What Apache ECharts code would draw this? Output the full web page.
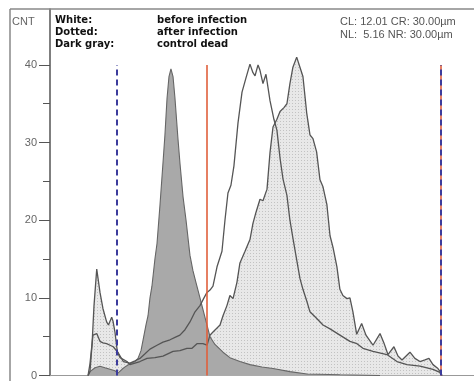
<!DOCTYPE html>
<html><head><meta charset="utf-8">
<script src="https://cdn.jsdelivr.net/npm/echarts@6/dist/echarts.min.js"></script>
<style>html,body{margin:0;padding:0;background:#fff}#c{width:474px;height:381px}</style>
</head><body><div id="c"></div>
<script>
// x in µm, y in counts (CNT)
const whiteX = [2.92,3.07,3.30,3.59,3.84,4.07,4.35,4.61,4.86,5.25,5.63,6.14,6.53,6.91,7.30,7.68,8.22,8.68,9.22,9.60,9.98,10.37,10.75,11.14,11.52,11.83,12.06,12.29,12.52,12.83,13.21,13.44,13.67,13.90,14.13,14.44,14.75,15.05,15.36,15.59,15.75,15.98,16.13,16.36,16.59,16.90,17.20,17.43,17.67,17.90,18.20,18.43,18.66,18.97,19.20,19.43,19.74,19.97,20.51,20.97,21.51,22.27,23.04,23.58,24.04,24.81,25.88,26.65,27.42,28.42,29.42,29.95,30.11];
const whiteY = [0,1.5,5.2,5.4,4.4,4.2,4.1,3.9,3.7,2.9,1.8,1.6,1.9,2.2,2.8,3.4,3.9,4.3,4.6,4.9,5.2,5.9,6.9,8.2,9.0,10,10.7,11.0,11.5,14,16,20,23.5,24.5,27,32.5,36.5,38.3,40.1,39.0,38.6,40,39.3,37.6,38.8,35.4,33,31.6,28,25.3,23.2,20,17.7,14.7,12.5,11.1,9.5,8.2,7.3,6.5,6.0,5.2,4.4,4.1,3.5,3.1,2.7,1.8,1.4,1.2,0.8,0.4,0];

const dottedX = [2.92,3.07,3.23,3.38,3.59,3.69,3.84,4.07,4.35,4.49,4.61,4.74,4.84,4.99,5.17,5.38,5.91,6.14,6.91,7.45,8.06,8.68,9.45,9.98,10.52,10.91,11.29,11.75,12.06,12.29,12.52,13.06,13.29,13.59,13.82,14.06,14.36,14.59,14.98,15.36,15.59,15.82,16.13,16.36,16.67,16.90,17.13,17.43,17.67,17.97,18.20,18.43,18.66,18.95,19.20,19.43,19.72,19.97,20.20,20.48,20.74,20.97,21.27,21.51,21.74,22.04,22.27,22.50,22.81,23.04,23.27,23.56,23.94,24.27,24.81,25.35,25.65,25.96,26.42,26.73,27.04,27.65,28.03,28.42,28.80,29.11,29.42,29.80,30.01,30.11];
const dottedY = [0,0.5,4,9,13.7,12.5,10.7,8.6,6.9,6.5,7.0,7.5,7.0,5.6,3.1,2.3,1.8,1.4,1.8,2.2,2.3,2.5,3.1,3.2,3.5,3.5,4.1,4.1,3.9,5.2,5.6,6.5,7.7,9.0,10.3,9.9,12,14.5,16,17.5,19.6,21,22.7,22.5,24,28.7,32,33,34,34.5,35,37.6,39.7,41,39.7,38.5,33.8,31,30.5,28.8,25.2,24.3,22,18,16.5,14,11.1,10.3,9.9,10,8.2,5.3,6.7,5.2,3.9,5.4,4.2,2.7,3.7,2.5,2.0,3.0,2.2,1.8,2.0,2.2,1.4,0.9,0.4,0];

const grayX = [2.92,3.07,3.46,3.84,4.22,4.61,4.99,5.22,5.53,5.84,6.14,6.53,6.76,6.99,7.14,7.37,7.53,7.68,7.83,8.06,8.22,8.45,8.68,8.83,8.99,9.14,9.29,9.45,9.60,9.83,9.98,10.22,10.45,10.75,10.98,11.21,11.52,11.75,11.98,12.29,12.67,13.29,13.82,14.59,15.36,16.28,17.13,18.43,19.74,22.27,25.35];
const grayY = [0,0.5,1.0,1.2,1.0,0.8,0.6,0.3,0.8,1.2,1.5,1.8,2.2,3.2,4.5,6.5,7.7,10,11.5,15,17,22,27.4,31,35.7,38.5,39.5,38.5,35.7,30.5,27.4,23,20,15.5,13.5,12,10,8.5,7,5,4,3,2.3,1.8,1.4,1.1,0.9,0.5,0.2,0.1,0];

const yMajorTicks = [0,10,20,30,40];
const yMinorTicks = [5,15,25,35];
const cursorNL = 5.16, cursorCL = 12.01, cursorCR = 30.00, cursorNR = 30.00;
const cursorTop = 40;
const xMax = 32.57, yMax = 47.2;

function pairs(xs, ys){ return xs.map((x,i)=>[x, ys[i]]); }

const pc = document.createElement('canvas');
pc.width = 3; pc.height = 3;
const g = pc.getContext('2d');
g.fillStyle = '#e8e8e8'; g.fillRect(0,0,3,3);
g.fillStyle = '#c2c2c2'; g.fillRect(1,1,1,1);

const chart = echarts.init(document.getElementById('c'), null, {renderer:'canvas'});
const lineCol = '#555';
const font = 'DejaVu Sans';
chart.setOption({
  animation: false,
  grid: {left: 50, right: 0, top: 9, bottom: 1},
  xAxis: {type:'value', min:0, max:xMax, axisLine:{show:true, lineStyle:{color:'#999', width:1}}, axisTick:{show:false}, axisLabel:{show:false}, splitLine:{show:false}},
  yAxis: [
    {type:'value', min:0, max:yMax, interval:10, position:'left',
     axisLine:{show:true, lineStyle:{color:'#555', width:1.5}},
     axisTick:{show:true, length:11, customValues: yMajorTicks, lineStyle:{color:'#555', width:1}},
     axisLabel:{customValues: yMajorTicks, margin:13, color:'#666', fontSize:11, fontFamily:'Liberation Sans'},
     splitLine:{show:false}},
    {type:'value', min:0, max:yMax, interval:10, position:'left',
     axisLine:{show:false},
     axisTick:{show:true, length:7, customValues: yMinorTicks, lineStyle:{color:'#555', width:1}},
     axisLabel:{show:false}, splitLine:{show:false}}
  ],
  series: [
    {type:'line', data: pairs(dottedX, dottedY), symbol:'none', z:1, lineStyle:{width:0}, areaStyle:{color:{image:pc, repeat:'repeat'}, opacity:1}},
    {type:'line', data: pairs(grayX, grayY), symbol:'none', z:2, lineStyle:{width:0}, areaStyle:{color:'#a9a9a9', opacity:1}},
    {type:'line', data: pairs(grayX, grayY), symbol:'none', z:3, lineStyle:{color:'#666', width:1.1}},
    {type:'line', data: pairs(dottedX, dottedY), symbol:'none', z:3, lineStyle:{color:lineCol, width:1.3}},
    {type:'line', data: pairs(whiteX, whiteY), symbol:'none', z:3, lineStyle:{color:lineCol, width:1.3}},
    {type:'line', data: [], z:4,
     markLine:{silent:true, symbol:'none', label:{show:false},
       data:[
         [{coord:[cursorCL,0], lineStyle:{color:'#e0603c', width:1.6, type:'solid'}},{coord:[cursorCL,cursorTop]}],
         [{coord:[cursorCR,0], lineStyle:{color:'#e0603c', width:1.6, type:'solid'}},{coord:[cursorCR,cursorTop]}],
         [{coord:[cursorNL,0], lineStyle:{color:'#3c3c9c', width:2, type:[6,4]}},{coord:[cursorNL,cursorTop]}],
         [{coord:[cursorNR,0], lineStyle:{color:'#3c3c9c', width:2, type:[6,4]}},{coord:[cursorNR,cursorTop]}]
       ]}}
  ],
  graphic: [
    {type:'line', shape:{x1:10, y1:9, x2:474, y2:9}, style:{stroke:'#888', lineWidth:1.5}, z:10},
    {type:'line', shape:{x1:10, y1:9, x2:10, y2:381}, style:{stroke:'#888', lineWidth:1.5}, z:10},
    {type:'text', left:12, top:16, style:{text:'CNT', fill:'#666', font:'11px Liberation Sans'}},
    {type:'text', left:55, top:14, style:{text:'White:\nDotted:\nDark gray:', fill:'#111', font:'bold 10px '+font, lineHeight:12}},
    {type:'text', left:157, top:14, style:{text:'before infection\nafter infection\ncontrol dead', fill:'#111', font:'bold 10px '+font, lineHeight:12}},
    {type:'text', left:340, top:16, style:{text:'CL: 12.01 CR: 30.00µm\nNL:  5.16 NR: 30.00µm', fill:'#555', font:'11px Liberation Sans', lineHeight:12.5}}
  ]
});
</script></body></html>
